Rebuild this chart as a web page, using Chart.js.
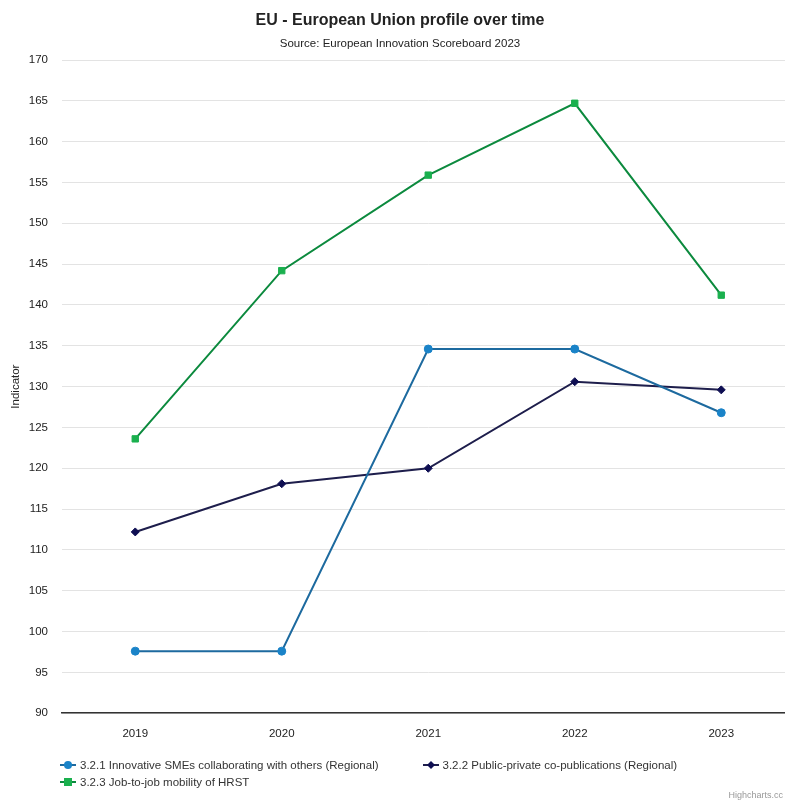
<!DOCTYPE html>
<html>
<head>
<meta charset="utf-8">
<script src="https://cdn.jsdelivr.net/npm/chart.js@4"></script>
<style>
    body { margin: 0; background: #fff; font-family: "Liberation Sans", Arial, sans-serif; overflow: hidden; }
    #wrap { position: relative; width: 800px; height: 760px; }
    #legend { position: absolute; left: 60px; top: 756px; width: 700px; display: flex; flex-wrap: wrap; font-size: 11.5px; color: #333; }
    .item { display: flex; align-items: center; height: 17px; margin-right: 44px; }
    .item canvas { margin-right: 4px; }
    #credit { position: absolute; right: 2px; top: 790px; font-size: 9px; color: #999; }
</style>
</head>
<body>
<div id="wrap"><canvas id="chart"></canvas></div>
<div id="legend"></div>
<div id="credit">Highcharts.cc</div>
<script>
// Data
const years = ['2019', '2020', '2021', '2022', '2023'];
const smeCollab = [97.6, 97.6, 134.6, 134.6, 126.8];
const pubPrivate = [112.2, 118.1, 120.0, 130.6, 129.6];
const jobMobility = [123.6, 144.2, 155.9, 164.7, 141.2];
const seriesNames = [
    '3.2.1 Innovative SMEs collaborating with others (Regional)',
    '3.2.2 Public-private co-publications (Regional)',
    '3.2.3 Job-to-job mobility of HRST'
];

const font = "'Liberation Sans', Arial, sans-serif";

const chart = new Chart(document.getElementById('chart'), {
    type: 'line',
    data: {
        labels: years,
        datasets: [{
            label: seriesNames[0],
            data: smeCollab,
            borderColor: '#1d6a9f',
            backgroundColor: '#1a83c8',
            pointBackgroundColor: '#1a83c8',
            pointBorderColor: '#1a83c8',
            pointStyle: 'circle',
            pointRadius: 4
        }, {
            label: seriesNames[1],
            data: pubPrivate,
            borderColor: '#1e1e4c',
            backgroundColor: '#0e0e52',
            pointBackgroundColor: '#0e0e52',
            pointBorderColor: '#0e0e52',
            pointStyle: 'rectRot',
            pointRadius: 4
        }, {
            label: seriesNames[2],
            data: jobMobility,
            borderColor: '#0c8a3e',
            backgroundColor: '#1ab04e',
            pointBackgroundColor: '#1ab04e',
            pointBorderColor: '#1ab04e',
            pointStyle: 'rect',
            pointRadius: 4.5
        }]
    },
    options: {
        responsive: true,
        maintainAspectRatio: false,
        animation: false,
        elements: { line: { borderWidth: 2, tension: 0 } },
        layout: { padding: { bottom: 5 } },
        plugins: {
            legend: { display: false },
            tooltip: { enabled: false },
            title: {
                display: true,
                text: 'EU - European Union profile over time',
                color: '#222',
                font: { family: font, size: 16, weight: 'bold' },
                padding: { top: 11, bottom: 1 }
            },
            subtitle: {
                display: true,
                text: 'Source: European Innovation Scoreboard 2023',
                color: '#222',
                font: { family: font, size: 11.5 },
                padding: { top: 6, bottom: 9 }
            }
        },
        scales: {
            x: {
                offset: true,
                grid: { display: false, drawTicks: false },
                border: { display: true, color: '#333', width: 1.5 },
                ticks: { color: '#222', font: { family: font, size: 11.5 }, padding: 14 }
            },
            y: {
                min: 90,
                max: 170,
                afterFit: scale => { scale.width = 62; },
                ticks: { stepSize: 5, color: '#222', font: { family: font, size: 11.5 }, padding: 14 },
                grid: { color: '#e3e3e3', drawTicks: false },
                border: { display: false },
                title: {
                    display: true,
                    text: 'Indicator',
                    color: '#222',
                    font: { family: font, size: 11.5 },
                    padding: { top: 9, bottom: 4 }
                }
            }
        }
    }
});

// HTML legend built from the chart datasets
const legend = document.getElementById('legend');
chart.data.datasets.forEach(ds => {
    const item = document.createElement('div');
    item.className = 'item';
    const icon = document.createElement('canvas');
    icon.width = 16; icon.height = 12;
    const c = icon.getContext('2d');
    c.strokeStyle = ds.borderColor; c.lineWidth = 2;
    c.beginPath(); c.moveTo(0, 6); c.lineTo(16, 6); c.stroke();
    c.fillStyle = ds.pointBackgroundColor;
    c.beginPath();
    if (ds.pointStyle === 'circle') c.arc(8, 6, 4, 0, Math.PI * 2);
    else if (ds.pointStyle === 'rect') c.rect(4, 2, 8, 8);
    else { c.moveTo(8, 2); c.lineTo(12, 6); c.lineTo(8, 10); c.lineTo(4, 6); c.closePath(); }
    c.fill();
    const label = document.createElement('span');
    label.textContent = ds.label;
    item.appendChild(icon);
    item.appendChild(label);
    legend.appendChild(item);
});
</script>
</body>
</html>
